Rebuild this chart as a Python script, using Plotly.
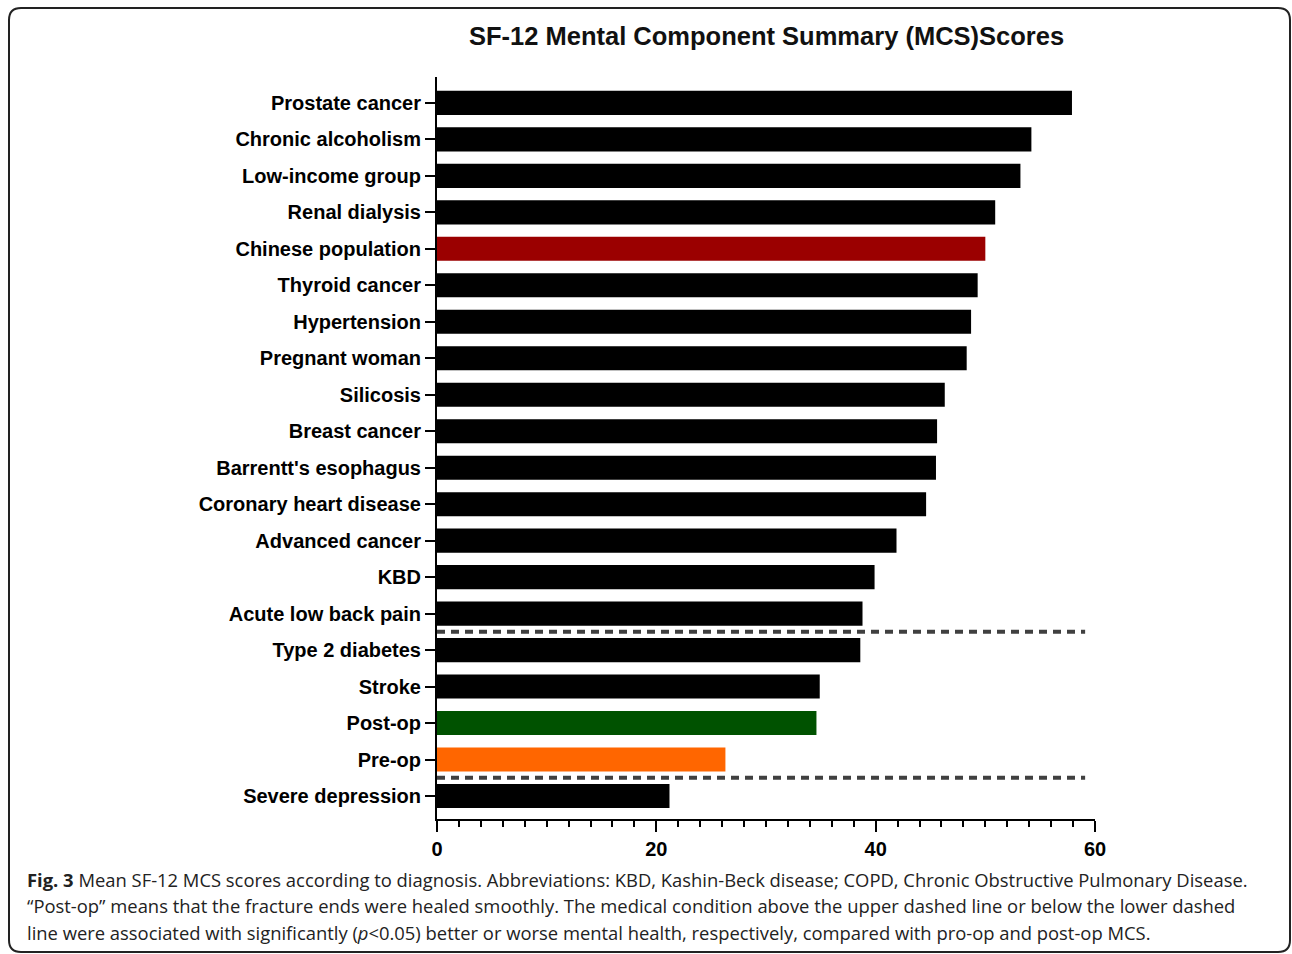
import plotly.graph_objects as go

categories = [
    "Prostate cancer", "Chronic alcoholism", "Low-income group", "Renal dialysis",
    "Chinese population", "Thyroid cancer", "Hypertension", "Pregnant woman",
    "Silicosis", "Breast cancer", "Barrentt's esophagus", "Coronary heart disease",
    "Advanced cancer", "KBD", "Acute low back pain", "Type 2 diabetes", "Stroke",
    "Post-op", "Pre-op", "Severe depression",
]
mcs_scores = [
    57.9, 54.2, 53.2, 50.9, 50.0, 49.3, 48.7, 48.3, 46.3, 45.6, 45.5, 44.6,
    41.9, 39.9, 38.8, 38.6, 34.9, 34.6, 26.3, 21.2,
]
highlight_colors = {"Chinese population": "#9B0000", "Post-op": "#005200", "Pre-op": "#FF6600"}
bar_colors = [highlight_colors.get(c, "#000000") for c in categories]

x_ticks = [0, 20, 40, 60]
upper_split_after = "Acute low back pain"
lower_split_after = "Pre-op"
dash_end = 59.1

W, H = 1292, 954
L, R, T, B = 437, 1095, 77, 819


def px(x):
    return (x - L) / (R - L)


def py(y):
    return (B - y) / (B - T)


fig = go.Figure()
fig.add_trace(go.Bar(
    y=categories, x=mcs_scores, orientation="h",
    marker=dict(color=bar_colors, line=dict(width=0)),
    width=0.66, showlegend=False, hoverinfo="x+y",
))

shapes = []
for name in (upper_split_after, lower_split_after):
    yv = categories.index(name) + 0.5
    shapes.append(dict(type="line", xref="x", yref="y", x0=0, x1=dash_end, y0=yv, y1=yv,
                       line=dict(color="#404040", width=4, dash="8px,6px")))

# rounded frame
x0, x1, y0, y1, r = px(9), px(1290), py(8), py(952), 12
rx, ry = r / (R - L), r / (B - T)
path = (f"M {x0+rx},{y0} L {x1-rx},{y0} Q {x1},{y0} {x1},{y0-ry} "
        f"L {x1},{y1+ry} Q {x1},{y1} {x1-rx},{y1} "
        f"L {x0+rx},{y1} Q {x0},{y1} {x0},{y1+ry} "
        f"L {x0},{y0-ry} Q {x0},{y0} {x0+rx},{y0} Z")
shapes.append(dict(type="path", xref="paper", yref="paper", path=path,
                   line=dict(color="#222222", width=2), layer="above"))

caption_lines = [
    "<b>Fig. 3</b> Mean SF-12 MCS scores according to diagnosis. Abbreviations: KBD, Kashin-Beck disease; COPD, Chronic Obstructive Pulmonary Disease.",
    "\u201cPost-op\u201d means that the fracture ends were healed smoothly. The medical condition above the upper dashed line or below the lower dashed",
    "line were associated with significantly (<i>p</i><0.05) better or worse mental health, respectively, compared with pro-op and post-op MCS.",
]
annotations = [dict(
    text="<b>SF-12 Mental Component Summary (MCS)Scores</b>",
    xref="paper", yref="paper", x=px(766), y=py(36), xanchor="center", yanchor="middle",
    showarrow=False, font=dict(family="Liberation Sans, Arial", size=25.5, color="#111111"),
)]
for i, line in enumerate(caption_lines):
    annotations.append(dict(
        text=line, xref="paper", yref="paper", x=px(25), y=py(879 + i * 26.5),
        xanchor="left", yanchor="middle", showarrow=False,
        font=dict(family="Open Sans, Noto Sans", size=18.4, color="#222222"),
    ))

fig.update_layout(
    width=W, height=H,
    margin=dict(l=L, r=W - R, t=T, b=H - B),
    paper_bgcolor="white", plot_bgcolor="white",
    shapes=shapes, annotations=annotations,
    bargap=0.34,
    xaxis=dict(
        range=[0, 60], tickvals=x_ticks, ticks="outside", ticklen=11, tickwidth=2,
        tickcolor="black", showline=True, linecolor="black", linewidth=2,
        showgrid=False, zeroline=False,
        tickfont=dict(family="Liberation Sans, Arial", size=20, color="black", weight="bold"),
        minor=dict(dtick=2, ticks="outside", ticklen=6, tickwidth=2, tickcolor="black", showgrid=False),
    ),
    yaxis=dict(
        range=[19.63, -0.71], ticks="outside", ticklen=10, tickwidth=2, tickcolor="black",
        showline=True, linecolor="black", linewidth=2, showgrid=False, zeroline=False,
        tickfont=dict(family="Liberation Sans, Arial", size=20, color="black", weight="bold"),
    ),
)

fig.write_html("out.html")
